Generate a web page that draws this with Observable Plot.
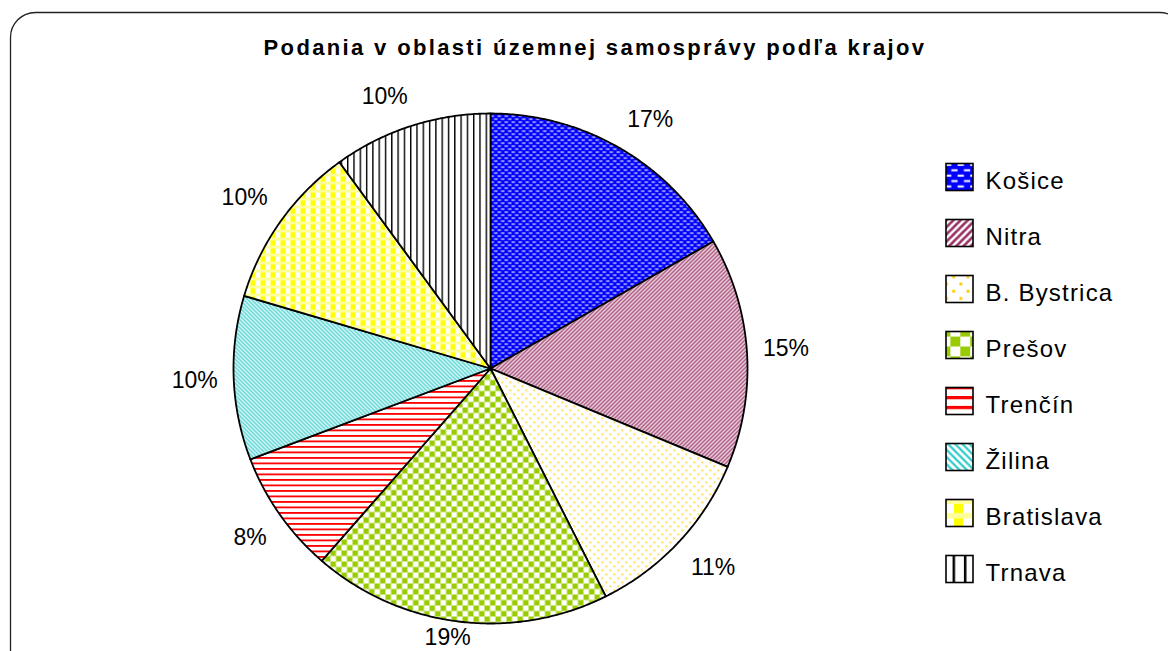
<!DOCTYPE html>
<html>
<head>
<meta charset="utf-8">
<script src="https://cdn.jsdelivr.net/npm/d3@7"></script>
<script src="https://cdn.jsdelivr.net/npm/@observablehq/plot@0.6"></script>
<style>
html, body { margin: 0; padding: 0; background: #fff; overflow: hidden; }
#chart svg { font-family: "Liberation Sans", Arial, sans-serif; display: block; }
</style>
</head>
<body>
<div id="chart"></div>
<script>
// ---- data ----
const title = "Podania v oblasti územnej samosprávy podľa krajov";
const regions = ["Košice", "Nitra", "B. Bystrica", "Prešov", "Trenčín", "Žilina", "Bratislava", "Trnava"];
const shares = [16.7, 14.6, 11.3, 18.8, 7.8, 10.4, 10.4, 10.0];

// ---- style / layout ----
const patternColors = ["#0000ff", "#993366", "#ffcc00", "#99cc00", "#ff0000", "#33cccc", "#ffff00", "#000000"];
const W = 1168, H = 651;
const CX = 490, CY = 368, RX = 257, RY = 255;
const labelFont = 23;
const toX = px => (px - CX) / RX;
const toY = py => (CY - py) / RY;
const clamp = (v, a, b) => Math.max(a, Math.min(b, v));

// ---- geometry from data ----
const total = d3.sum(shares);
let acc = 0;
const slices = regions.map((name, i) => {
  const a0 = acc / total * 2 * Math.PI;
  acc += shares[i];
  const a1 = acc / total * 2 * Math.PI;
  return {name, i, value: shares[i], a0, a1, pct: Math.round(shares[i] / total * 100) + "%"};
});
const slicePoints = slices.map(s => {
  const pts = [{x: 0, y: 0}];
  const n = Math.max(2, Math.ceil((s.a1 - s.a0) / (Math.PI / 360)));
  for (let k = 0; k <= n; k++) {
    const a = s.a0 + (s.a1 - s.a0) * k / n;
    pts.push({x: Math.sin(a), y: Math.cos(a)});
  }
  return pts;
});
// outside-end labels: near corner of the label box sits just outside the rim
const labelGap = 16, labelHalfH = 14;
const labels = slices.map(s => {
  const m = (s.a0 + s.a1) / 2;
  const sx = Math.sin(m), cy = Math.cos(m);
  const digits = s.pct.length - 1;
  const hw = labelFont * (0.556 * digits + 0.889) / 2;
  const px = CX + sx * (RX + labelGap) + hw * clamp(sx * 3, -1, 1);
  let py = CY - cy * (RY + labelGap) - labelHalfH * clamp(cy * 3, -1, 1);
  py = Math.min(py, 637);
  return {x: toX(px), y: toY(py), text: s.pct};
});
const legend = regions.map((name, i) => {
  const cy = 177 + 56 * i;
  return {name, i, x1: toX(946), x2: toX(973), y1: toY(cy - 13.5), y2: toY(cy + 13.5), tx: toX(985), ty: toY(cy + 3.5)};
});

const marks = [
  Plot.frame({rx: 25, ry: 25, insetRight: -16, insetBottom: -40, stroke: "#222", strokeWidth: 1.3}),
  Plot.text([title], {x: () => toX(594.5), y: () => toY(47), text: d => d, fontWeight: "bold", fontSize: 22, fill: "#000"}),
  ...slicePoints.map((pts, i) => Plot.line(pts, {x: "x", y: "y", curve: "linear-closed", fill: `url(#pat${i})`, stroke: "#000", strokeWidth: 1.8, strokeLinejoin: "round"})),
  Plot.text(labels, {x: "x", y: "y", text: "text", fontSize: labelFont, fill: "#000"}),
  ...legend.map((d, i) => Plot.rect([d], {x1: "x1", x2: "x2", y1: "y1", y2: "y2", fill: `url(#leg${i})`, stroke: "#000", strokeWidth: 1.6})),
  Plot.text(legend, {x: "tx", y: "ty", text: "name", textAnchor: "start", fontSize: 24, fill: "#000"})
];

const svg = Plot.plot({
  width: W, height: H,
  marginLeft: 10, marginTop: 12, marginRight: 0, marginBottom: 0,
  x: {domain: [-1, 1], range: [CX - RX, CX + RX], axis: null},
  y: {domain: [-1, 1], range: [CY + RY, CY - RY], axis: null},
  style: {background: "#fff", overflow: "hidden", fontFamily: "Liberation Sans, Arial, sans-serif"},
  marks
});

// letter spacing like the original rendering
d3.select(svg).selectAll("text").each(function () {
  const t = this.textContent;
  if (t === title) this.setAttribute("letter-spacing", "2.35");
  else if (regions.includes(t)) this.setAttribute("letter-spacing", "1.2");
});

// ---- pattern fills ----
const defs = d3.select(svg).insert("defs", ":first-child");
function makePatterns(prefix, scale) {
  const mk = (i, w, h) => {
    const p = defs.append("pattern").attr("id", prefix + i)
      .attr("patternUnits", "userSpaceOnUse").attr("width", w).attr("height", h);
    if (scale !== 1) p.attr("patternTransform", `scale(${scale})`);
    return p;
  };
  const c = patternColors;
  // 0 Košice: blue with white dashes
  let p = mk(0, 7, 6);
  p.append("rect").attr("width", 7).attr("height", 6).attr("fill", c[0]);
  p.append("rect").attr("x", 0).attr("y", 1).attr("width", 3.5).attr("height", 1.2).attr("fill", "#eeeeff");
  p.append("rect").attr("x", 3.5).attr("y", 4).attr("width", 3.5).attr("height", 1.2).attr("fill", "#eeeeff");
  // 1 Nitra: "/" diagonal
  p = mk(1, 4, 4);
  p.append("rect").attr("width", 4).attr("height", 4).attr("fill", "#fff");
  p.append("path").attr("d", "M-1,1 L1,-1 M0,4 L4,0 M3,5 L5,3").attr("stroke", c[1]).attr("stroke-width", 1.5);
  // 2 B. Bystrica: dots
  p = mk(2, 8, 8);
  p.append("rect").attr("width", 8).attr("height", 8).attr("fill", "#fff");
  p.append("rect").attr("x", 1).attr("y", 1).attr("width", 1.6).attr("height", 1.6).attr("fill", c[2]);
  p.append("rect").attr("x", 5).attr("y", 5).attr("width", 1.6).attr("height", 1.6).attr("fill", c[2]);
  // 3 Prešov: checker
  p = mk(3, 11, 11);
  p.append("rect").attr("width", 11).attr("height", 11).attr("fill", "#fff");
  p.append("rect").attr("x", 0).attr("y", 0).attr("width", 5.5).attr("height", 5.5).attr("fill", c[3]);
  p.append("rect").attr("x", 5.5).attr("y", 5.5).attr("width", 5.5).attr("height", 5.5).attr("fill", c[3]);
  // 4 Trenčín: horizontal lines
  p = mk(4, 6, 5.5);
  p.append("rect").attr("width", 6).attr("height", 5.5).attr("fill", "#fff");
  p.append("rect").attr("y", 0).attr("width", 6).attr("height", 1.8).attr("fill", c[4]);
  // 5 Žilina: "\" diagonal
  p = mk(5, 4, 4);
  p.append("rect").attr("width", 4).attr("height", 4).attr("fill", "#fff");
  p.append("path").attr("d", "M-1,3 L1,5 M0,0 L4,4 M3,-1 L5,1").attr("stroke", c[5]).attr("stroke-width", 1.3);
  // 6 Bratislava: plaid
  p = mk(6, 10, 8);
  p.append("rect").attr("width", 10).attr("height", 8).attr("fill", "#ffff99");
  p.append("rect").attr("x", 0).attr("y", 0).attr("width", 5).attr("height", 5).attr("fill", c[6]);
  p.append("rect").attr("x", 5).attr("y", 0).attr("width", 5).attr("height", 5).attr("fill", "#fff");
  // 7 Trnava: vertical lines
  p = mk(7, 6.3, 6);
  p.append("rect").attr("width", 6.3).attr("height", 6).attr("fill", "#fff");
  p.append("rect").attr("x", 0).attr("width", 1.4).attr("height", 6).attr("fill", c[7]);
}
makePatterns("pat", 1);
makePatterns("leg", 1.8);

document.getElementById("chart").appendChild(svg);
</script>
</body>
</html>
